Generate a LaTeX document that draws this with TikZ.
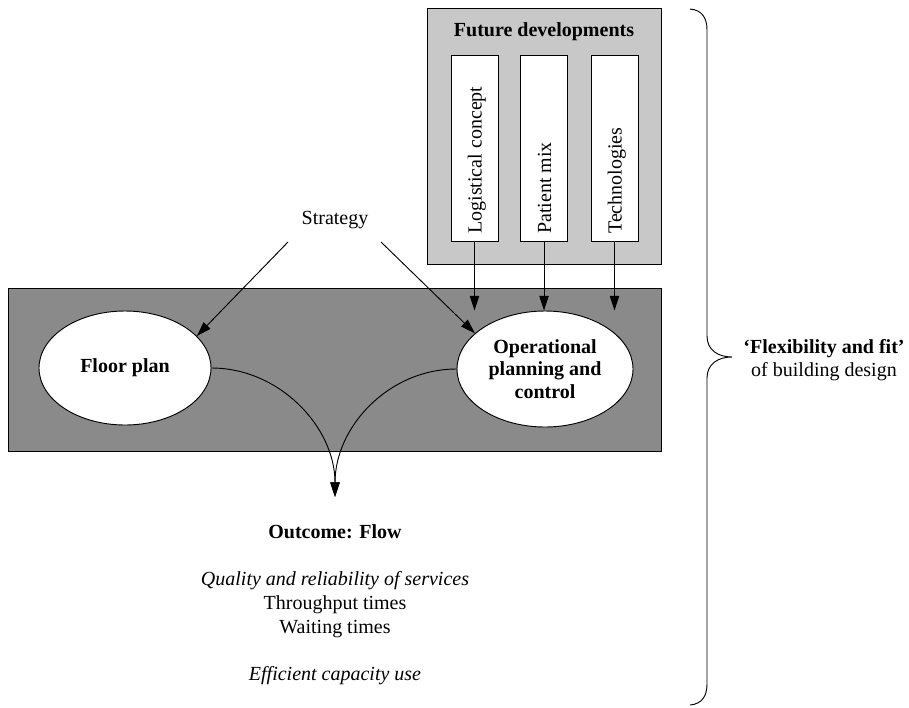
\documentclass[tikz,border=0pt]{standalone}
\usepackage{fontspec}
\setmainfont{Liberation Serif}
\usetikzlibrary{arrows.meta,calc,shapes.geometric}
\definecolor{lightpanel}{RGB}{200,200,200}
\definecolor{darkpanel}{RGB}{138,138,138}
\newcommand\basesize{\fontsize{15}{17}\selectfont}
\begin{document}
\begin{tikzpicture}[x=0.75pt,y=-0.75pt,
  every node/.style={font=\basesize, inner sep=0pt},
  thin line/.style={line width=0.7pt},
  tip/.style={thin line, -{Triangle[length=11pt,width=7pt]}},
  panel/.style={draw, thin line, rectangle},
  factor/.style={panel, fill=white, minimum width=35.25pt, minimum height=139.5pt},
  factortext/.style={rotate=90, anchor=base west},
  bubble/.style={ellipse, draw, thin line, fill=white, align=center, font=\basesize\bfseries},
  result/.style={anchor=base}
]
\useasboundingbox (0,0) rectangle (909,707);

% future developments with its three factors
\node[panel, fill=lightpanel, minimum width=175.5pt, minimum height=192pt] (future) at (544,136) {};
\node[anchor=base, font=\basesize\bfseries] (futuretitle) at (544,36) {Future developments};
\node[factor] (logistic) at (474.5,148) {};
\node[factor] (patients) at (544,148) {};
\node[factor] (techno) at (614.5,148) {};
\node[factortext] (logistictext) at (481.5,234) {Logistical concept};
\node[factortext] (patientstext) at (551,234) {Patient mix};
\node[factortext] (technotext) at (621.5,234) {Technologies};

% building panel with its two elements
\node[panel, fill=darkpanel, minimum width=489.75pt, minimum height=122.25pt] (building) at (334.5,369.5) {};
\node[bubble, minimum width=129pt, minimum height=85.5pt] (floor) at (125,368) {Floor plan};
\node[bubble, minimum width=132pt, minimum height=87pt] (ops) at (545,369) {Operational\\planning and\\control};

% factors acting on operations
\draw[tip] (logistic.south) -- (logistic.south |- ops.north);
\draw[tip] (patients.south) -- (patients.south |- ops.north);
\draw[tip] (techno.south) -- (techno.south |- ops.north);

% strategy
\node[anchor=base] (strategy) at (335,224) {Strategy};
\draw[tip] ($(strategy.base)+(-47,18)$) -- (floor.24);
\draw[tip] ($(strategy.base)+(46,18)$) -- (ops.153);

% both elements lead to the outcome
\coordinate (merge) at (335,497);
\draw[tip] (floor.east) .. controls +(68,0) and +(0,-70) .. (merge);
\draw[tip] (ops.west) .. controls +(-68,0) and +(0,-70) .. (merge);

\node[result, font=\basesize\bfseries] (outcome) at (335,538) {Outcome: Flow};
\node[result, font=\basesize\itshape] (quality) at (335,585) {Quality and reliability of services};
\node[result] (throughput) at (335,609) {Throughput times};
\node[result] (waiting) at (335,633) {Waiting times};
\node[result, font=\basesize\itshape] (capacity) at (335,680) {Efficient capacity use};

% brace spanning the whole design
\draw[thin line] (690,9) .. controls (702,10) and (707,18) .. (707,30)
  -- (707,336) .. controls (707,350) and (718,357) .. (732,357)
  .. controls (718,357) and (707,364) .. (707,378)
  -- (707,684) .. controls (707,696) and (702,704) .. (690,705);
\node[anchor=base, font=\basesize\bfseries] (flex) at (824,353) {‘Flexibility and fit’};
\node[anchor=base] (design) at (824,376) {of building design};
\end{tikzpicture}
\end{document}
